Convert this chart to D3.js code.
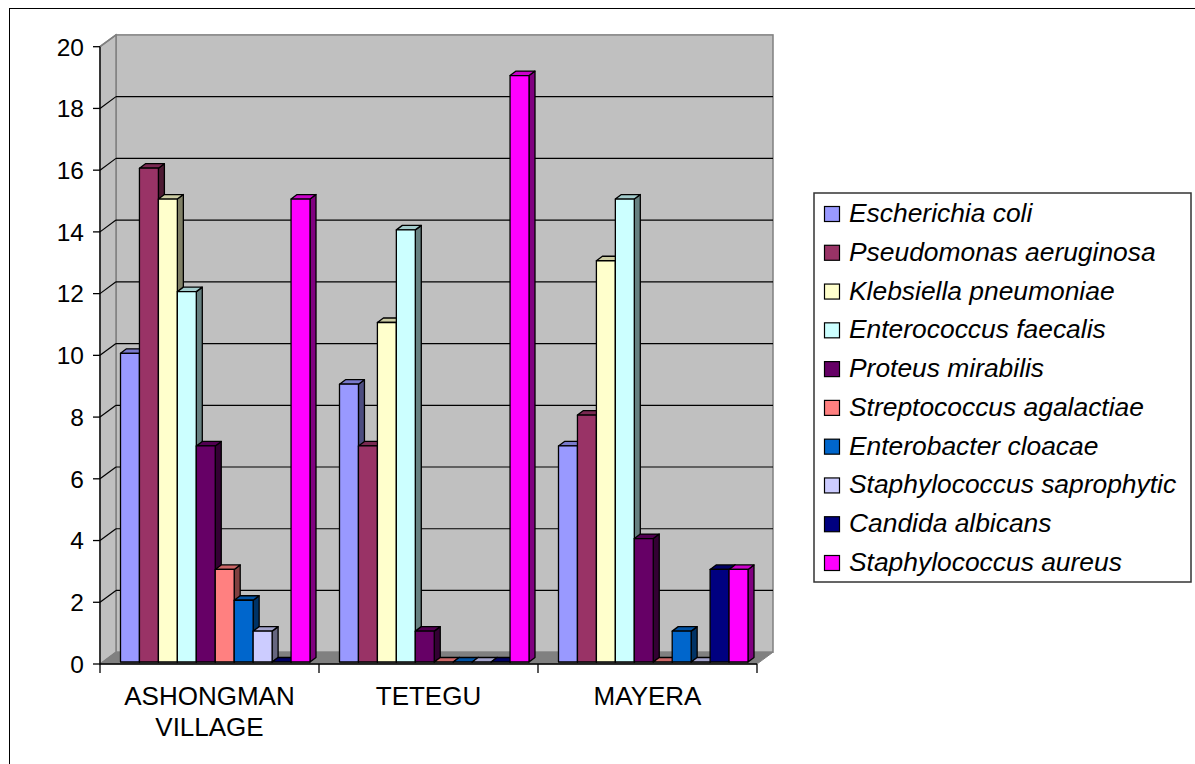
<!DOCTYPE html>
<html>
<head>
<meta charset="utf-8">
<script src="https://cdn.jsdelivr.net/npm/d3@7"></script>
<style>
html,body{margin:0;padding:0;background:#fff;}
svg{display:block;font-family:"Liberation Sans",Arial,sans-serif;}
</style>
</head>
<body>
<svg id="chart" width="1195" height="764"></svg>
<script>
const categories = ["ASHONGMAN VILLAGE", "TETEGU", "MAYERA"];
const categoryLines = [["ASHONGMAN", "VILLAGE"], ["TETEGU"], ["MAYERA"]];
const seriesNames = [
  "Escherichia coli", "Pseudomonas aeruginosa", "Klebsiella pneumoniae",
  "Enterococcus faecalis", "Proteus mirabilis", "Streptococcus agalactiae",
  "Enterobacter cloacae", "Staphylococcus saprophytic", "Candida albicans",
  "Staphylococcus aureus"
];
const seriesColors = ["#9999FF", "#993366", "#FFFFCC", "#CCFFFF", "#660066",
  "#FF8080", "#0066CC", "#CCCCFF", "#000080", "#FF00FF"];
// values per series: [ASHONGMAN VILLAGE, TETEGU, MAYERA]
const escherichia = [10, 9, 7];
const pseudomonas = [16, 7, 8];
const klebsiella = [15, 11, 13];
const enterococcus = [12, 14, 15];
const proteus = [7, 1, 4];
const streptococcus = [3, 0, 0];
const enterobacter = [2, 0, 1];
const saprophytic = [1, 0, 0];
const candida = [0, 0, 3];
const aureus = [15, 19, 3];
const seriesValues = [escherichia, pseudomonas, klebsiella, enterococcus, proteus,
  streptococcus, enterobacter, saprophytic, candida, aureus];
const yTicks = [0, 2, 4, 6, 8, 10, 12, 14, 16, 18, 20];

const svg = d3.select("#chart");

// outer border
svg.append("rect").attr("x", 9.5).attr("y", 8.5).attr("width", 1200).attr("height", 800)
  .attr("fill", "#fff").attr("stroke", "#000").attr("stroke-width", 1);

// geometry
const X0 = 100, X1 = 757;
const DX = 16, DY = -11.8;        // wall depth offset
const BDX = 6, BDY = -4.5;        // bar depth
const yFront = d3.scaleLinear().domain([0, 20]).range([664, 46.7]);
const yBack = v => yFront(v) + DY;
const yBar = d3.scaleLinear().domain([0, 20]).range([662, 662 - (664 - 46.7)]);
const x0 = d3.scaleBand().domain(categories).range([X0, X1]).padding(0);
const x1 = d3.scaleBand().domain(seriesNames).range([20.5, 210]).padding(0);

const g = svg.append("g");

// back wall
g.append("rect").attr("x", X0 + DX).attr("y", yBack(20)).attr("width", X1 - X0)
  .attr("height", yBack(0) - yBack(20)).attr("fill", "#C0C0C0").attr("stroke", "#808080").attr("stroke-width", 1.5);
// left wall
g.append("polygon").attr("points", [[X0, yFront(20)], [X0 + DX, yBack(20)], [X0 + DX, yBack(0)], [X0, yFront(0)]].join(" "))
  .attr("fill", "#C0C0C0").attr("stroke", "#808080").attr("stroke-width", 1.5);
// floor
g.append("polygon").attr("points", [[X0, yFront(0)], [X0 + DX, yBack(0)], [X1 + DX, yBack(0)], [X1, yFront(0)]].join(" "))
  .attr("fill", "#808080").attr("stroke", "#808080").attr("stroke-width", 1);

// gridlines
yTicks.filter(v => v > 0 && v < 20).forEach(v => {
  g.append("line").attr("x1", X0 + DX).attr("x2", X1 + DX).attr("y1", yBack(v)).attr("y2", yBack(v))
    .attr("stroke", "#000").attr("stroke-width", 1.2);
  g.append("line").attr("x1", X0).attr("x2", X0 + DX).attr("y1", yFront(v)).attr("y2", yBack(v))
    .attr("stroke", "#000").attr("stroke-width", 1.2);
});
g.append("line").attr("x1", X0).attr("x2", X0 + DX).attr("y1", yFront(20)).attr("y2", yBack(20))
  .attr("stroke", "#808080").attr("stroke-width", 1.5);

// bars
function scaleColor(c, k) {
  const r = d3.rgb(c);
  return d3.rgb(r.r * k, r.g * k, r.b * k).formatHex();
}
const barsG = g.append("g");
categories.forEach((cat, ci) => {
  seriesNames.forEach((s, si) => {
    const v = seriesValues[si][ci];
    const xl = x0(cat) + x1(s);
    const w = x1.bandwidth();
    const yt = yBar(v), yb = yBar(0);
    const col = seriesColors[si];
    const bg = barsG.append("g").attr("stroke", "#000").attr("stroke-width", 1.3).attr("stroke-linejoin", "round");
    // right side
    bg.append("polygon").attr("points", [[xl + w, yt], [xl + w + BDX, yt + BDY], [xl + w + BDX, yb + BDY], [xl + w, yb]].join(" "))
      .attr("fill", scaleColor(col, 0.5));
    // top
    bg.append("polygon").attr("points", [[xl, yt], [xl + BDX, yt + BDY], [xl + w + BDX, yt + BDY], [xl + w, yt]].join(" "))
      .attr("fill", scaleColor(col, 0.8));
    // front
    if (v > 0) {
      bg.append("rect").attr("x", xl).attr("y", yt).attr("width", w).attr("height", yb - yt).attr("fill", col);
    }
  });
});

// y axis
g.append("line").attr("x1", X0).attr("x2", X0).attr("y1", yFront(20)).attr("y2", yFront(0))
  .attr("stroke", "#000").attr("stroke-width", 1.3);
yTicks.forEach(v => {
  g.append("line").attr("x1", X0 - 7).attr("x2", X0).attr("y1", yFront(v)).attr("y2", yFront(v))
    .attr("stroke", "#000").attr("stroke-width", 1.3);
  g.append("text").attr("x", 84).attr("y", yFront(v) + 8.8).attr("text-anchor", "end")
    .attr("font-size", 24.5).attr("fill", "#000").text(v);
});

// x axis
g.append("line").attr("x1", X0).attr("x2", X1).attr("y1", yFront(0)).attr("y2", yFront(0))
  .attr("stroke", "#000").attr("stroke-width", 1.3);
[X0].concat(categories.map(c => x0(c) + x0.bandwidth())).forEach(x => {
  g.append("line").attr("x1", x).attr("x2", x).attr("y1", yFront(0)).attr("y2", yFront(0) + 9)
    .attr("stroke", "#000").attr("stroke-width", 1.3);
});
categories.forEach((c, i) => {
  const t = g.append("text").attr("x", x0(c) + x0.bandwidth() / 2).attr("y", 705)
    .attr("text-anchor", "middle").attr("font-size", 26).attr("fill", "#000");
  categoryLines[i].forEach((ln, li) => {
    t.append("tspan").attr("x", x0(c) + x0.bandwidth() / 2).attr("dy", li === 0 ? 0 : 31).text(ln);
  });
});

// legend
const lg = svg.append("g");
lg.append("rect").attr("x", 814).attr("y", 193).attr("width", 377).attr("height", 389)
  .attr("fill", "#fff").attr("stroke", "#333").attr("stroke-width", 1.5);
const ly = d3.scalePoint().domain(seriesNames).range([213, 562]);
seriesNames.forEach((s, i) => {
  lg.append("rect").attr("x", 824.5).attr("y", ly(s) - 6.5).attr("width", 15).attr("height", 15)
    .attr("fill", seriesColors[i]).attr("stroke", "#000").attr("stroke-width", 1.2);
  lg.append("text").attr("x", 849).attr("y", ly(s) + 9).attr("font-size", 26.4)
    .attr("font-style", "italic").attr("fill", "#000").text(s);
});
</script>
</body>
</html>
